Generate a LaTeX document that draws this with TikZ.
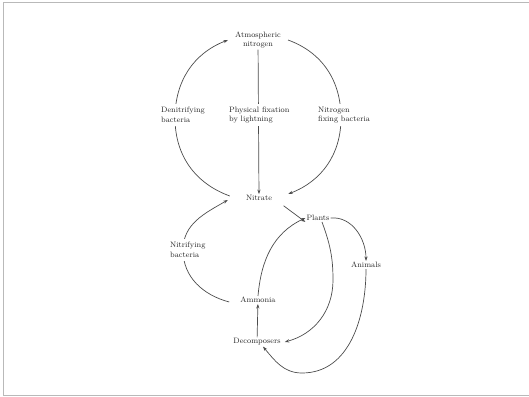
\documentclass[tikz,border=0pt]{standalone}
\usetikzlibrary{arrows.meta}
\pgfdeclarelayer{background}
\pgfsetlayers{background,main}
\begin{document}
\begin{tikzpicture}[x=1pt,y=1pt,
  lbl/.style={font=\fontsize{7.8}{9.6}\selectfont, align=center, inner sep=1pt, text=black!85},
  cover/.style={lbl, fill=white, inner sep=3pt},
  arr/.style={draw=black!70, line width=0.7pt, -{Stealth[length=4.5pt,width=3.2pt]}},
  plain/.style={draw=black!70, line width=0.7pt}]
\useasboundingbox (0,0) rectangle (529,396);
\draw[gray!55, line width=1pt] (529,393) -- (3,393) -- (3,1) -- (529,1);

\node[lbl] (atm) at (258,356) {Atmospheric\\nitrogen};
\node[cover, align=left, anchor=west] (den) at (158,281) {Denitrifying\\bacteria};
\node[cover, align=left, anchor=west] (phys) at (226,281) {Physical fixation\\by lightning};
\node[cover, align=left, anchor=west] (nfb) at (315,281) {Nitrogen\\fixing bacteria};
\node[lbl] (nit) at (259,198) {Nitrate};
\node[lbl] (pla) at (318,178) {Plants};
\node[lbl] (ani) at (366,131) {Animals};
\node[cover, align=left, anchor=west] (nib) at (167,146) {Nitrifying\\bacteria};
\node[lbl] (amm) at (258,96) {Ammonia};
\node[lbl] (dec) at (257,54) {Decomposers};

\coordinate (L1) at (175,278);
\coordinate (R1) at (341,278);
\coordinate (L2) at (183,146);
\coordinate (R3) at (333,116);
\coordinate (B) at (302,23);

\begin{pgfonlayer}{background}
% big circle
\draw[arr] ([xshift=-15pt,yshift=2pt]nit.west) to[out=160,in=-90] (L1)
   to[out=90,in=201] ([xshift=-6pt]atm.west);
\draw[arr] ([xshift=6pt]atm.east) to[out=-20,in=90] (R1)
   to[out=-90,in=21] ([xshift=15pt,yshift=4pt]nit.east);
\draw[arr] (atm) -- (nit);
% nitrate -> plants
\draw[arr, shorten <=13pt] (nit.east) -- (pla.south west);
% ammonia -> nitrate via nitrifying bacteria
\draw[arr] ([xshift=-10pt,yshift=-2pt]amm.west) to[out=165,in=-90] (L2)
   to[out=90,in=210] ([xshift=-17pt,yshift=-2pt]nit.west);
% decomposers -> ammonia
\draw[arr] (dec) -- (amm);
% ammonia -> plants
\draw[arr] (amm.north) to[out=85,in=205] (pla.west);
% plants -> decomposers
\draw[arr] ([xshift=4pt]pla.south) to[out=-70,in=90] (R3)
   to[out=-90,in=15] ([xshift=3pt]dec.east);
% plants -> animals
\draw[arr] (pla.east) to[out=5,in=90] (ani.north);
% animals -> decomposers
\draw[arr] (ani.south) to[out=-90,in=0] (B)
   to[out=180,in=-50] ([xshift=6pt]dec.south);
\end{pgfonlayer}
\end{tikzpicture}
\end{document}
